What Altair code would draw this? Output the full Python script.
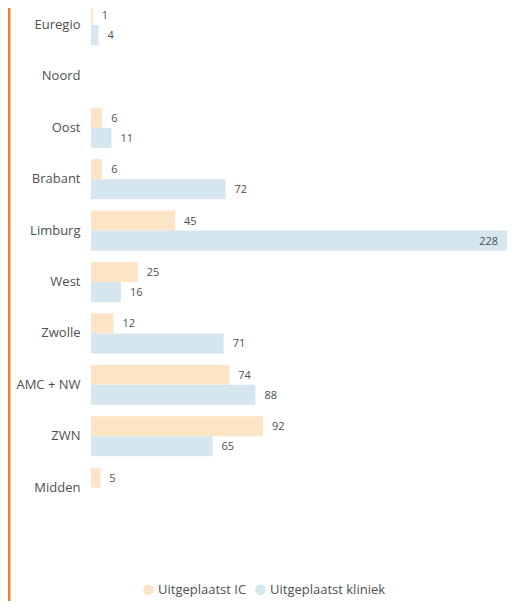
import altair as alt
import pandas as pd

regions = ["Euregio", "Noord", "Oost", "Brabant", "Limburg", "West",
           "Zwolle", "AMC + NW", "ZWN", "Midden"]
ic = [1, None, 6, 6, 45, 25, 12, 74, 92, 5]
kliniek = [4, None, 11, 72, 228, 16, 71, 88, 65, None]
series = ["Uitgeplaatst IC", "Uitgeplaatst kliniek"]
colors = ["#FCE5C6", "#D5E6EE"]

rows = []
for r, a, b in zip(regions, ic, kliniek):
    if a is not None:
        rows.append({"regio": r, "reeks": series[0], "waarde": a})
    if b is not None:
        rows.append({"regio": r, "reeks": series[1], "waarde": b})
df = pd.DataFrame(rows)

W = 416
H = 593
xmax = 228 * W / 426

base = alt.Chart(df)

y_enc = alt.Y("regio:N", sort=regions,
              scale=alt.Scale(domain=regions, range=[-8.7, 505.3],
                              paddingInner=0.22, paddingOuter=0.11),
              axis=alt.Axis(title=None, domain=False, ticks=False, grid=False,
                            labelPadding=11, labelFontSize=13,
                            labelFont="Open Sans", labelColor="#505050"))
x_scale = alt.Scale(domain=[0, xmax], nice=False, zero=True)

bars = base.mark_bar(clip=False).encode(
    y=y_enc,
    yOffset=alt.YOffset("reeks:N", sort=series,
                        scale=alt.Scale(domain=series, paddingInner=0, paddingOuter=0)),
    x=alt.X("waarde:Q", scale=x_scale, axis=None),
    color=alt.Color("reeks:N", sort=series,
                    scale=alt.Scale(domain=series, range=colors),
                    legend=alt.Legend(title=None, orient="none", direction="horizontal",
                                      legendX=51, legendY=H - 18,
                                      symbolType="circle", symbolSize=115,
                                      symbolStrokeWidth=0, labelFontSize=13,
                                      labelFont="Open Sans", labelColor="#505050",
                                      labelOffset=3, columnPadding=7)),
)

labels = base.transform_calculate(
    lx="min(datum.waarde, 203)"
).mark_text(align="left", baseline="middle", dx=9, dy=1, fontSize=11,
            font="Open Sans", color="#505050").encode(
    y=alt.Y("regio:N", sort=regions),
    yOffset=alt.YOffset("reeks:N", sort=series),
    x=alt.X("lx:Q", scale=x_scale),
    text=alt.Text("waarde:Q"),
)

line = alt.Chart(pd.DataFrame({"a": [0]})).mark_rule(
    color="#EE7F2D", strokeWidth=2.5, clip=False
).encode(x=alt.value(-81.8), y=alt.value(-20), y2=alt.value(H + 10))

chart = alt.layer(bars, labels, line).properties(
    width=W, height=H,
    autosize=alt.AutoSizeParams(type="none"),
    padding={"left": 83, "top": 0, "right": 0, "bottom": 0},
).configure_view(stroke=None)

chart.save("out.html", embed_options={"renderer": "svg", "actions": False})
